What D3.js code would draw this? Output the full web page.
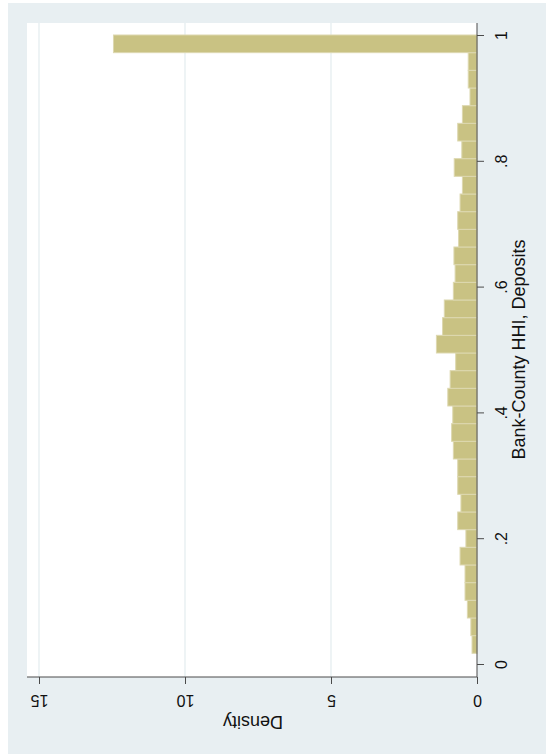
<!DOCTYPE html>
<html>
<head>
<meta charset="utf-8">
<script src="https://cdn.jsdelivr.net/npm/d3@7"></script>
<style>
  html, body { margin: 0; padding: 0; background: #ffffff; }
  svg { display: block; font-family: Arial, "Liberation Sans", sans-serif; }
</style>
</head>
<body>
<svg id="chart" width="546" height="755"></svg>
<script>
// Histogram of bank-county HHI (deposits), drawn horizontally.
// Density per bin, from the lowest HHI bin to the highest.
const densities = [
  0.17, 0.21, 0.33, 0.41, 0.41, 0.58, 0.38, 0.66, 0.55, 0.66,
  0.66, 0.81, 0.87, 0.83, 1.00, 0.92, 0.73, 1.39, 1.18, 1.12,
  0.81, 0.75, 0.79, 0.63, 0.66, 0.58, 0.50, 0.78, 0.52, 0.66,
  0.50, 0.24, 0.30, 0.30, 12.45
];
const hhiMin = 0.017;   // lower edge of the first bin
const hhiMax = 1.0;     // upper edge of the last bin
const hhiTicks = [0, 0.2, 0.4, 0.6, 0.8, 1];
const hhiTickLabels = ["0", ".2", ".4", ".6", ".8", "1"];
const densityTicks = [0, 5, 10, 15];
const densityTickLabels = ["0", "5", "10", "15"];
const hhiTitle = "Bank-County HHI, Deposits";
const densityTitle = "Density";

const svg = d3.select("#chart");

// Outer graph region and white plot region
svg.append("rect").attr("x", 8).attr("y", 3).attr("width", 538).attr("height", 751)
  .attr("fill", "#e8eff2");
const plot = { left: 27, right: 477, top: 23, bottom: 677 };
svg.append("rect").attr("x", plot.left).attr("y", plot.top)
  .attr("width", plot.right - plot.left).attr("height", plot.bottom - plot.top)
  .attr("fill", "#ffffff");

// Scales: HHI runs bottom-to-top, density runs right-to-left
const y = d3.scaleLinear().domain([0, 1]).range([664, 35]);
const x = d3.scaleLinear().domain([0, 15]).range([477, 39]);

// Grid lines at density ticks
svg.append("g").selectAll("line")
  .data(densityTicks.filter(d => d > 0))
  .join("line")
  .attr("x1", d => x(d)).attr("x2", d => x(d))
  .attr("y1", plot.top).attr("y2", plot.bottom)
  .attr("stroke", "#e3ecef").attr("stroke-width", 1.2);

// Bars
const binWidth = (hhiMax - hhiMin) / densities.length;
const bins = densities.map((d, i) => ({
  lo: hhiMin + i * binWidth,
  hi: hhiMin + (i + 1) * binWidth,
  density: d
}));
svg.append("g").selectAll("rect")
  .data(bins)
  .join("rect")
  .attr("x", d => x(d.density))
  .attr("y", d => y(d.hi))
  .attr("width", d => x(0) - x(d.density))
  .attr("height", d => y(d.lo) - y(d.hi))
  .attr("fill", "#c9c283")
  .attr("stroke", "#ddd8b0")
  .attr("stroke-width", 1);

// Right axis (HHI)
const yAxis = d3.axisRight(y).tickValues(hhiTicks).tickSize(7)
  .tickFormat((d, i) => hhiTickLabels[i]);
const gy = svg.append("g").attr("transform", `translate(${plot.right},0)`).call(yAxis);
gy.select(".domain").attr("d", `M0,${plot.top}V${plot.bottom}`).attr("stroke", "#4a4a4a");
gy.selectAll(".tick line").attr("stroke", "#4a4a4a");
gy.selectAll(".tick text")
  .attr("x", null).attr("dy", null)
  .attr("text-anchor", "middle")
  .attr("dominant-baseline", "central")
  .attr("transform", "translate(24,0) rotate(-90)")
  .attr("font-size", 16).attr("fill", "#111");

// Bottom axis (density)
const xAxis = d3.axisBottom(x).tickValues(densityTicks).tickSize(7)
  .tickFormat((d, i) => densityTickLabels[i]);
const gx = svg.append("g").attr("transform", `translate(0,${plot.bottom})`).call(xAxis);
gx.select(".domain").attr("d", `M${plot.left},0H${plot.right}`).attr("stroke", "#4a4a4a");
gx.selectAll(".tick line").attr("stroke", "#4a4a4a");
gx.selectAll(".tick text")
  .attr("y", null).attr("dy", null)
  .attr("text-anchor", "middle")
  .attr("dominant-baseline", "central")
  .attr("transform", "translate(0,23) rotate(180)")
  .attr("font-size", 16).attr("fill", "#111");

// Axis titles
svg.append("text")
  .attr("transform", `translate(519,${(y(0) + y(1)) / 2}) rotate(-90)`)
  .attr("text-anchor", "middle").attr("dominant-baseline", "central")
  .attr("font-size", 18).attr("fill", "#111")
  .text(hhiTitle);
svg.append("text")
  .attr("transform", `translate(${(plot.left + plot.right) / 2 + 1},722) rotate(180)`)
  .attr("text-anchor", "middle").attr("dominant-baseline", "central")
  .attr("font-size", 18).attr("fill", "#111")
  .text(densityTitle);
</script>
</body>
</html>
